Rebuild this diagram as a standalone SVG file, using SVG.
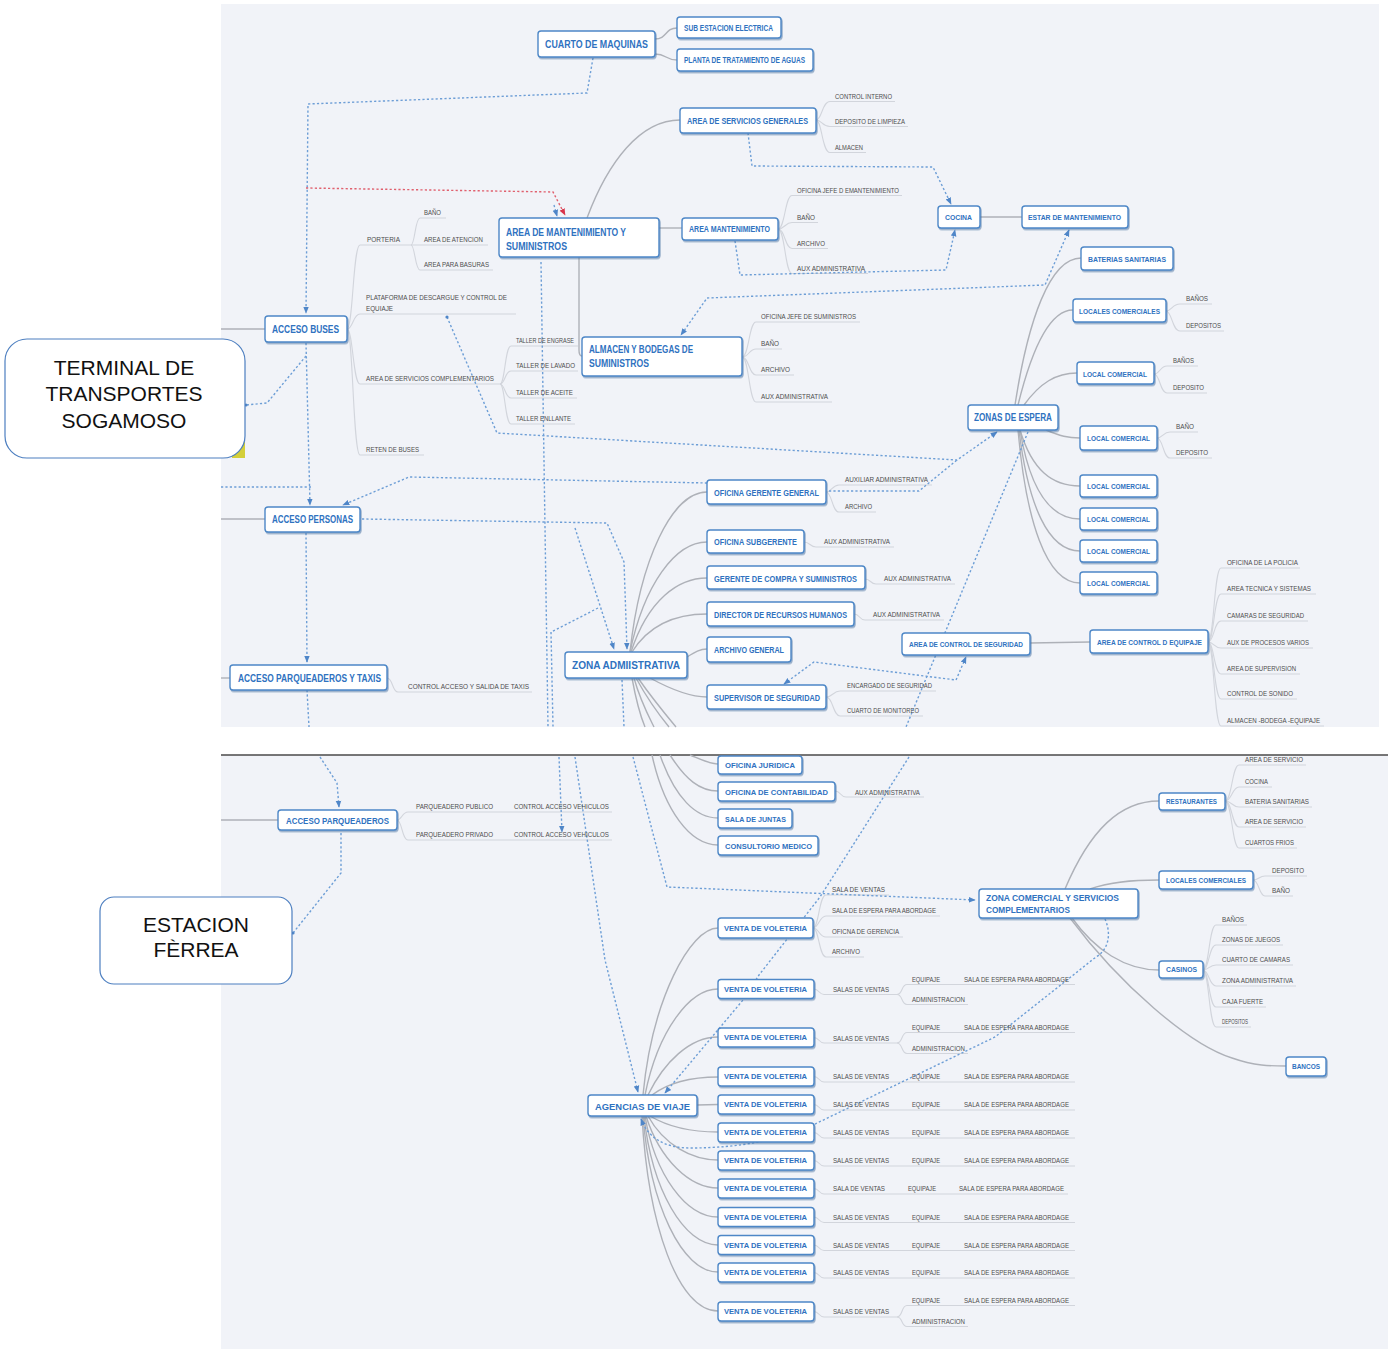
<svg xmlns="http://www.w3.org/2000/svg" width="1388" height="1349" viewBox="0 0 1388 1349">
<defs>
<style>
.p{fill:#f1f3f8}
.b{fill:#fff;stroke:#4d87c7;stroke-width:1.4;filter:url(#sh)}
.t{font-family:"Liberation Sans",Arial,sans-serif;font-weight:bold;fill:#2f72bf}
.l{font-family:"Liberation Sans",Arial,sans-serif;fill:#4d4d4d;font-size:7.2px}
.m{font-family:"Liberation Sans",Arial,sans-serif;fill:#111;font-size:21px;text-anchor:middle}
.br{fill:none;stroke:#aeb1b8;stroke-width:1.4}
.lb{fill:none;stroke:#d2d5dc;stroke-width:1.1}
.d{fill:none;stroke:#6d9ed6;stroke-width:1.4;stroke-dasharray:2.2 2.2}
.dr{fill:none;stroke:#e0606e;stroke-width:1.4;stroke-dasharray:2.2 2.2}
</style>
<filter id="sh" x="-10%" y="-20%" width="130%" height="160%">
<feDropShadow dx="1" dy="1.5" stdDeviation="0.6" flood-color="#4a6fa0" flood-opacity="0.55"/>
</filter>
<marker id="ar" viewBox="0 0 10 10" refX="9" refY="5" markerUnits="userSpaceOnUse" markerWidth="7" markerHeight="7" orient="auto-start-reverse">
<path d="M0,1 L10,5 L0,9 z" fill="#4f86c8"/>
</marker>
<marker id="arr" viewBox="0 0 10 10" refX="9" refY="5" markerUnits="userSpaceOnUse" markerWidth="7" markerHeight="7" orient="auto">
<path d="M0,1 L10,5 L0,9 z" fill="#d8344a"/>
</marker>
</defs>

<g id="panels">
<rect class="p" x="221" y="4" width="1158" height="723"/>
<rect class="p" x="221" y="755" width="1167" height="594"/>
<line x1="221" y1="755" x2="1388" y2="755" stroke="#4a4a4a" stroke-width="1.5"/>
</g>

<g id="connectors">
<path class="br" d="M655,39 C667,39 665,28 677,28"/>
<path class="br" d="M655,54 C667,54 665,60 677,60"/>
<path class="br" d="M587,218 C608,162 640,120 680,120"/>
<path class="br" d="M659,228 L682,228"/>
<path class="br" d="M579,257 L579,350 Q579,356 582,356"/>
<path class="br" d="M980,217 L1022,217"/>
<path class="br" d="M1015,405 C1028,320 1050,258 1081,258"/>
<path class="br" d="M1018,405 C1034,340 1052,310 1073,310"/>
<path class="br" d="M1024,405 C1040,383 1056,373 1077,373"/>
<path class="br" d="M1046,430 C1060,436 1068,438 1080,438"/>
<path class="br" d="M1020,430 C1032,470 1052,486 1080,486"/>
<path class="br" d="M1020,430 C1030,490 1050,519 1080,519"/>
<path class="br" d="M1019,430 C1028,505 1048,551 1080,551"/>
<path class="br" d="M1018,430 C1026,520 1046,583 1080,583"/>
<path class="br" d="M630,652 C640,560 672,492 707,492"/>
<path class="br" d="M630,652 C644,585 675,542 707,542"/>
<path class="br" d="M631,652 C648,600 678,578 707,578"/>
<path class="br" d="M632,652 C652,620 682,614 707,614"/>
<path class="br" d="M687,657 C695,652 700,649 707,649"/>
<path class="br" d="M650,678 C672,690 690,697 707,697"/>
<path class="br" d="M632,678 C636,700 640,715 645,727"/>
<path class="br" d="M634,678 C640,700 648,715 654,727"/>
<path class="br" d="M636,678 C648,700 660,716 669,727"/>
<path class="br" d="M638,678 C652,698 666,715 676,727"/>
<path class="br" d="M1030,643 L1090,642"/>
<path class="br" d="M221,329 H265"/>
<path class="br" d="M221,519 H265"/>
<path class="br" d="M221,678 H230"/>
<path class="br" d="M221,820 H278"/>
<path class="br" d="M690,755 C702,760 710,764 718,764"/>
<path class="br" d="M670,755 C686,780 700,791 718,791"/>
<path class="br" d="M660,755 C675,798 696,818 718,818"/>
<path class="br" d="M652,755 C664,810 690,845 718,845"/>
<path class="br" d="M1065,889 C1090,830 1120,801 1159,801"/>
<path class="br" d="M1090,889 C1110,882 1130,880 1159,880"/>
<path class="br" d="M1072,918 C1095,950 1125,970 1159,970"/>
<path class="br" d="M1070,918 C1120,985 1190,1045 1232,1058 C1255,1066 1270,1066 1286,1066"/>
<path class="br" d="M643,1095 C652,1000 690,928 718,928"/>
<path class="br" d="M645,1095 C658,1030 690,989 718,989"/>
<path class="br" d="M648,1095 C664,1062 690,1037 718,1037"/>
<path class="br" d="M652,1095 C672,1080 696,1077 718,1077"/>
<path class="br" d="M697,1105 L718,1104.5"/>
<path class="br" d="M650,1116 C670,1128 696,1132 718,1132"/>
<path class="br" d="M648,1116 C664,1145 692,1160 718,1160"/>
<path class="br" d="M646,1116 C660,1160 690,1188 718,1188"/>
<path class="br" d="M645,1116 C655,1175 686,1217 718,1217"/>
<path class="br" d="M644,1116 C652,1190 684,1245 718,1245"/>
<path class="br" d="M643,1116 C650,1205 682,1272 718,1272"/>
<path class="br" d="M642,1116 C648,1225 678,1311 718,1311"/>

<path class="lb" d="M816,120 C822,120 822,101.5 830,101.5 H895"/>
<path class="lb" d="M816,120 C822,120 822,126.5 830,126.5 H908"/>
<path class="lb" d="M816,120 C822,120 822,152.5 830,152.5 H866"/>
<path class="lb" d="M778,229 C785,229 785,195.5 792,195.5 H902"/>
<path class="lb" d="M778,229 C785,229 785,222.5 792,222.5 H818"/>
<path class="lb" d="M778,229 C785,229 785,248.5 792,248.5 H828"/>
<path class="lb" d="M778,229 C785,229 785,273.5 792,273.5 H868"/>
<path class="lb" d="M347,329 C353,329 353,245 360,245 H411"/>
<path class="lb" d="M347,329 C353,329 353,314 360,314 H516"/>
<path class="lb" d="M347,329 C353,329 353,384 360,384 H500"/>
<path class="lb" d="M347,329 C353,329 353,455 360,455 H424"/>
<path class="lb" d="M411,245 C415,245 415,218 420,218 H446"/>
<path class="lb" d="M411,245 H488"/>
<path class="lb" d="M411,245 C415,245 415,270 420,270 H493"/>
<path class="lb" d="M500,384 C505,384 505,346 511,346 H578"/>
<path class="lb" d="M500,384 C505,384 505,371 511,371 H578"/>
<path class="lb" d="M500,384 C505,384 505,398 511,398 H577"/>
<path class="lb" d="M500,384 C505,384 505,424 511,424 H575"/>
<path class="lb" d="M742,357 C749,357 749,322 756,322 H860"/>
<path class="lb" d="M742,357 C749,357 749,349 756,349 H782"/>
<path class="lb" d="M742,357 C749,357 749,375 756,375 H794"/>
<path class="lb" d="M742,357 C749,357 749,402 756,402 H832"/>
<path class="lb" d="M1166,311 C1172,311 1172,304 1180,304 H1212"/>
<path class="lb" d="M1166,311 C1172,311 1172,331 1180,331 H1224"/>
<path class="lb" d="M1154,374 C1160,374 1160,366 1167,366 H1198"/>
<path class="lb" d="M1154,374 C1160,374 1160,393 1167,393 H1207"/>
<path class="lb" d="M1157,438 C1163,438 1163,432 1170,432 H1198"/>
<path class="lb" d="M1157,438 C1163,438 1163,458 1170,458 H1212"/>
<path class="lb" d="M826,492 C832,492 832,485 839,485 H932"/>
<path class="lb" d="M826,492 C832,492 832,512 839,512 H876"/>
<path class="lb" d="M804,542 C810,542 810,547 816,547 H894"/>
<path class="lb" d="M865,579 C871,579 870,584 876,584 H955"/>
<path class="lb" d="M854,614 C860,614 859,620 865,620 H944"/>
<path class="lb" d="M826,697 C833,697 833,691 840,691 H936"/>
<path class="lb" d="M826,697 C833,697 833,716 840,716 H923"/>
<path class="lb" d="M1208,642 C1214,642 1214,568 1221,568 H1300"/>
<path class="lb" d="M1208,642 C1214,642 1214,594 1221,594 H1316"/>
<path class="lb" d="M1208,642 C1214,642 1214,621 1221,621 H1308"/>
<path class="lb" d="M1208,642 C1214,642 1214,648 1221,648 H1313"/>
<path class="lb" d="M1208,642 C1214,642 1214,674 1221,674 H1300"/>
<path class="lb" d="M1208,642 C1214,642 1214,699 1221,699 H1297"/>
<path class="lb" d="M1208,642 C1214,642 1214,726 1221,726 H1324"/>
<path class="lb" d="M387,678 C393,678 392,692 398,692 H532"/>
<path class="lb" d="M835,791 C841,791 840,797 846,797 H924"/>
<path class="lb" d="M397,820 C402,820 402,812 408,812 H612"/>
<path class="lb" d="M397,820 C402,820 402,840 408,840 H612"/>
<path class="lb" d="M813,928 C819,928 819,895 826,895 H889"/>
<path class="lb" d="M813,928 C819,928 819,916 826,916 H940"/>
<path class="lb" d="M813,928 C819,928 819,937 826,937 H903"/>
<path class="lb" d="M813,928 C819,928 819,957 826,957 H864"/>
<path class="lb" d="M1225,801 C1232,801 1232,765 1239,765 H1306"/>
<path class="lb" d="M1225,801 C1232,801 1232,787 1239,787 H1272"/>
<path class="lb" d="M1225,801 C1232,801 1232,807 1239,807 H1312"/>
<path class="lb" d="M1225,801 C1232,801 1232,827 1239,827 H1306"/>
<path class="lb" d="M1225,801 C1232,801 1232,848 1239,848 H1297"/>
<path class="lb" d="M1253,880 C1259,880 1259,876 1265,876 H1307"/>
<path class="lb" d="M1253,880 C1259,880 1259,896 1265,896 H1293"/>
<path class="lb" d="M1203,970 C1209,970 1209,925 1216,925 H1247"/>
<path class="lb" d="M1203,970 C1209,970 1209,945 1216,945 H1283"/>
<path class="lb" d="M1203,970 C1209,970 1209,965 1216,965 H1293"/>
<path class="lb" d="M1203,970 C1209,970 1209,986 1216,986 H1296"/>
<path class="lb" d="M1203,970 C1209,970 1209,1007 1216,1007 H1266"/>
<path class="lb" d="M1203,970 C1209,970 1209,1027 1216,1027 H1251"/>
<path class="lb" d="M814,989 C819,989 819,994.5 824,994.5 H897"/>
<path class="lb" d="M897,994.5 C903,994.5 901,984.5 907,984.5 H1075"/>
<path class="lb" d="M897,994.5 C903,994.5 901,1004.5 907,1004.5 H968"/>
<path class="lb" d="M814,1037.5 C819,1037.5 819,1043 824,1043 H897"/>
<path class="lb" d="M897,1043 C903,1043 901,1032.5 907,1032.5 H1075"/>
<path class="lb" d="M897,1043 C903,1043 901,1053.5 907,1053.5 H968"/>
<path class="lb" d="M814,1076.5 C819,1076.5 819,1082 824,1082 H1075"/>
<path class="lb" d="M814,1104.5 C819,1104.5 819,1110 824,1110 H1075"/>
<path class="lb" d="M814,1132.5 C819,1132.5 819,1138 824,1138 H1075"/>
<path class="lb" d="M814,1160.5 C819,1160.5 819,1166 824,1166 H1075"/>
<path class="lb" d="M814,1188.5 C819,1188.5 819,1194 824,1194 H1068"/>
<path class="lb" d="M814,1217 C819,1217 819,1222.5 824,1222.5 H1075"/>
<path class="lb" d="M814,1245 C819,1245 819,1250.5 824,1250.5 H1075"/>
<path class="lb" d="M814,1272.5 C819,1272.5 819,1278 824,1278 H1075"/>
<path class="lb" d="M814,1311.5 C819,1311.5 819,1317 824,1317 H897"/>
<path class="lb" d="M897,1317 C903,1317 901,1305.5 907,1305.5 H1075"/>
<path class="lb" d="M897,1317 C903,1317 901,1326.5 907,1326.5 H968"/>

<path class="d" d="M593,58 L587,93 L308,104 L306,313" marker-end="url(#ar)"/>
<path class="dr" d="M306,188 L553,192 L565,215" marker-end="url(#arr)"/>
<path class="d" d="M554,205 L557,216" marker-end="url(#ar)"/>
<path class="d" d="M748,133 L752,166 L933,167 L951,204" marker-end="url(#ar)"/>
<path class="d" d="M735,241 L740,275 L946,270 L955,230" marker-end="url(#ar)"/>
<path class="d" d="M1069,230 L1045,285 L707,298 L681,335" marker-start="url(#ar)" marker-end="url(#ar)"/>
<path class="d" d="M306,343 L310,505" marker-end="url(#ar)"/>
<path class="d" d="M306,356 L267,403 L246,405"/>
<circle cx="246" cy="405" r="1.6" fill="#4f86c8"/>
<path class="d" d="M221,487 L311,487"/>
<path class="d" d="M707,483 L409,477 L343,505" marker-end="url(#ar)"/>
<path class="d" d="M362,519 L607,523 L624,562 L627,649" marker-end="url(#ar)"/>
<path class="d" d="M575,528 L614,649" marker-end="url(#ar)"/>
<path class="d" d="M447,317 L497,433 L957,460 L997,432" marker-end="url(#ar)"/>
<circle cx="447" cy="317" r="1.6" fill="#4f86c8"/>
<path class="d" d="M829,491 L919,491 L957,460"/>
<path class="d" d="M1028,432 L906,727"/>
<path class="d" d="M909,757 L820,897 L759,975 L743,1000 L665,1093" marker-end="url(#ar)"/>
<path class="d" d="M784,684 L814,662 L956,680 L966,657" marker-start="url(#ar)" marker-end="url(#ar)"/>
<path class="d" d="M541,262 L548,727"/>
<path class="d" d="M559,757 L562,832" marker-end="url(#ar)"/>
<path class="d" d="M598,608 L551,632 L553,727"/>
<path class="d" d="M575,757 L605,960 L638,1092" marker-end="url(#ar)"/>
<path class="d" d="M622,680 L624,727"/>
<path class="d" d="M633,757 L667,887 L975,900" marker-end="url(#ar)"/>
<path class="d" d="M1105,919 C1112,935 1108,950 1096,957 L995,1037 L813,1125 C780,1140 740,1148 690,1148 C665,1148 648,1138 641,1119" marker-end="url(#ar)"/>
<path class="d" d="M320,757 L337,783 L339,807" marker-end="url(#ar)"/>
<path class="d" d="M341,833 L341,873 L293,933"/>
<circle cx="293" cy="933" r="1.6" fill="#4f86c8"/>
<path class="d" d="M306,533 L307,662" marker-end="url(#ar)"/>
<path class="d" d="M307,690 L309,727"/>
</g>

<g id="n-terminal">
<rect x="232" y="442" width="13" height="16" fill="#d4cf3a"/>
<rect x="5" y="339" width="240" height="119" rx="22" fill="#fff" stroke="#4d7fc0" stroke-width="1.2"/>
<text class="m" x="124" y="375">TERMINAL DE</text>
<text class="m" x="124" y="401">TRANSPORTES</text>
<text class="m" x="124" y="428">SOGAMOSO</text>
</g>
<g id="n-estacion">
<rect x="100" y="897" width="192" height="87" rx="14" fill="#fff" stroke="#4d7fc0" stroke-width="1.2"/>
<text class="m" x="196" y="932">ESTACION</text>
<text class="m" x="196" y="957">FÈRREA</text>
</g>

<g id="n-cuarto"><rect class="b" x="538" y="31" width="117" height="26" rx="3"/><text class="t" x="545" y="48" font-size="11.5" textLength="103" lengthAdjust="spacingAndGlyphs">CUARTO DE MAQUINAS</text></g>
<g id="n-subest"><rect class="b" x="677" y="17" width="104" height="21" rx="3"/><text class="t" x="684" y="30.5" font-size="8.5" textLength="89" lengthAdjust="spacingAndGlyphs">SUB ESTACION ELECTRICA</text></g>
<g id="n-planta"><rect class="b" x="677" y="49" width="136" height="22" rx="3"/><text class="t" x="684" y="63" font-size="8.5" textLength="121" lengthAdjust="spacingAndGlyphs">PLANTA DE TRATAMIENTO DE AGUAS</text></g>
<g id="n-asg"><rect class="b" x="680" y="108" width="136" height="25" rx="3"/><text class="t" x="687" y="124" font-size="8.5" textLength="121" lengthAdjust="spacingAndGlyphs">AREA DE SERVICIOS GENERALES</text></g>
<g id="n-amys"><rect class="b" x="499" y="218" width="160" height="39" rx="3"/><text class="t" x="506" y="236" font-size="10.5" textLength="120" lengthAdjust="spacingAndGlyphs">AREA DE MANTENIMIENTO Y</text><text class="t" x="506" y="250" font-size="10.5" textLength="61" lengthAdjust="spacingAndGlyphs">SUMINISTROS</text></g>
<g id="n-amant"><rect class="b" x="682" y="218" width="96" height="22" rx="3"/><text class="t" x="689" y="232" font-size="8.5" textLength="81" lengthAdjust="spacingAndGlyphs">AREA MANTENIMIENTO</text></g>
<g id="n-cocina"><rect class="b" x="938" y="206" width="42" height="22" rx="3"/><text class="t" x="945" y="220" font-size="8" textLength="27" lengthAdjust="spacingAndGlyphs">COCINA</text></g>
<g id="n-estar"><rect class="b" x="1022" y="206" width="106" height="22" rx="3"/><text class="t" x="1028" y="220" font-size="8" textLength="93" lengthAdjust="spacingAndGlyphs">ESTAR DE MANTENIMIENTO</text></g>
<g id="n-bat"><rect class="b" x="1081" y="247" width="92" height="23" rx="3"/><text class="t" x="1088" y="261.5" font-size="8" textLength="78" lengthAdjust="spacingAndGlyphs">BATERIAS SANITARIAS</text></g>
<g id="n-lcs1"><rect class="b" x="1073" y="299" width="93" height="23" rx="3"/><text class="t" x="1079" y="313.5" font-size="8" textLength="81" lengthAdjust="spacingAndGlyphs">LOCALES COMERCIALES</text></g>
<g id="n-lc1"><rect class="b" x="1077" y="362" width="77" height="22" rx="3"/><text class="t" x="1083" y="376.5" font-size="8" textLength="64" lengthAdjust="spacingAndGlyphs">LOCAL COMERCIAL</text></g>
<g id="n-ze"><rect class="b" x="968" y="405" width="90" height="25" rx="3"/><text class="t" x="974" y="421" font-size="10.5" textLength="78" lengthAdjust="spacingAndGlyphs">ZONAS DE ESPERA</text></g>
<g id="n-lc2"><rect class="b" x="1080" y="426" width="77" height="24" rx="3"/><text class="t" x="1087" y="441" font-size="8" textLength="63" lengthAdjust="spacingAndGlyphs">LOCAL COMERCIAL</text></g>
<g id="n-lc3"><rect class="b" x="1080" y="475" width="77" height="22" rx="3"/><text class="t" x="1087" y="489" font-size="8" textLength="63" lengthAdjust="spacingAndGlyphs">LOCAL COMERCIAL</text></g>
<g id="n-lc4"><rect class="b" x="1080" y="508" width="77" height="22" rx="3"/><text class="t" x="1087" y="522" font-size="8" textLength="63" lengthAdjust="spacingAndGlyphs">LOCAL COMERCIAL</text></g>
<g id="n-lc5"><rect class="b" x="1080" y="540" width="77" height="22" rx="3"/><text class="t" x="1087" y="554" font-size="8" textLength="63" lengthAdjust="spacingAndGlyphs">LOCAL COMERCIAL</text></g>
<g id="n-lc6"><rect class="b" x="1080" y="572" width="77" height="22" rx="3"/><text class="t" x="1087" y="586" font-size="8" textLength="63" lengthAdjust="spacingAndGlyphs">LOCAL COMERCIAL</text></g>
<g id="n-ab"><rect class="b" x="265" y="316" width="82" height="26" rx="3"/><text class="t" x="272" y="332.5" font-size="10.5" textLength="67" lengthAdjust="spacingAndGlyphs">ACCESO BUSES</text></g>
<g id="n-alm"><rect class="b" x="582" y="337" width="160" height="39" rx="3"/><text class="t" x="589" y="353" font-size="10.5" textLength="104" lengthAdjust="spacingAndGlyphs">ALMACEN Y BODEGAS DE</text><text class="t" x="589" y="367" font-size="10.5" textLength="60" lengthAdjust="spacingAndGlyphs">SUMINISTROS</text></g>
<g id="n-ap"><rect class="b" x="265" y="507" width="95" height="25" rx="3"/><text class="t" x="272" y="523" font-size="10.5" textLength="81" lengthAdjust="spacingAndGlyphs">ACCESO PERSONAS</text></g>
<g id="n-ogg"><rect class="b" x="707" y="480" width="119" height="24" rx="3"/><text class="t" x="714" y="495.5" font-size="9.5" textLength="105" lengthAdjust="spacingAndGlyphs">OFICINA GERENTE GENERAL</text></g>
<g id="n-subg"><rect class="b" x="707" y="530" width="97" height="23" rx="3"/><text class="t" x="714" y="545" font-size="9.5" textLength="83" lengthAdjust="spacingAndGlyphs">OFICINA SUBGERENTE</text></g>
<g id="n-compra"><rect class="b" x="707" y="566" width="158" height="23" rx="3"/><text class="t" x="714" y="581.5" font-size="8.4" textLength="143" lengthAdjust="spacingAndGlyphs">GERENTE DE COMPRA Y SUMINISTROS</text></g>
<g id="n-dir"><rect class="b" x="707" y="602" width="147" height="24" rx="3"/><text class="t" x="714" y="618" font-size="8.3" textLength="133" lengthAdjust="spacingAndGlyphs">DIRECTOR DE RECURSOS HUMANOS</text></g>
<g id="n-archg"><rect class="b" x="707" y="637" width="84" height="25" rx="3"/><text class="t" x="714" y="653" font-size="9.5" textLength="70" lengthAdjust="spacingAndGlyphs">ARCHIVO GENERAL</text></g>
<g id="n-za"><rect class="b" x="565" y="652" width="122" height="26" rx="3"/><text class="t" x="572" y="668.5" font-size="11" textLength="108" lengthAdjust="spacingAndGlyphs">ZONA ADMIISTRATIVA</text></g>
<g id="n-sup"><rect class="b" x="707" y="685" width="119" height="24" rx="3"/><text class="t" x="714" y="701" font-size="9.5" textLength="106" lengthAdjust="spacingAndGlyphs">SUPERVISOR DE SEGURIDAD</text></g>
<g id="n-acs"><rect class="b" x="902" y="633" width="128" height="22" rx="3"/><text class="t" x="909" y="646.5" font-size="7.5" textLength="114" lengthAdjust="spacingAndGlyphs">AREA DE CONTROL DE SEGURIDAD</text></g>
<g id="n-ace"><rect class="b" x="1090" y="630" width="118" height="23" rx="3"/><text class="t" x="1097" y="645" font-size="7.5" textLength="105" lengthAdjust="spacingAndGlyphs">AREA DE CONTROL D EQUIPAJE</text></g>
<g id="n-taxis"><rect class="b" x="230" y="665" width="157" height="25" rx="3"/><text class="t" x="238" y="682" font-size="10.5" textLength="143" lengthAdjust="spacingAndGlyphs">ACCESO PARQUEADEROS Y TAXIS</text></g>

<g id="l-ci"><text class="l" x="835" y="98.5" textLength="57" lengthAdjust="spacingAndGlyphs">CONTROL INTERNO</text></g>
<g id="l-dl"><text class="l" x="835" y="123.5" textLength="70" lengthAdjust="spacingAndGlyphs">DEPOSITO DE LIMPIEZA</text></g>
<g id="l-alm1"><text class="l" x="835" y="149.5" textLength="28" lengthAdjust="spacingAndGlyphs">ALMACEN</text></g>
<g id="l-ojm"><text class="l" x="797" y="192.5" textLength="102" lengthAdjust="spacingAndGlyphs">OFICINA JEFE D EMANTENIMIENTO</text></g>
<g id="l-bm"><text class="l" x="797" y="219.5" textLength="18" lengthAdjust="spacingAndGlyphs">BAÑO</text></g>
<g id="l-am"><text class="l" x="797" y="245.5" textLength="28" lengthAdjust="spacingAndGlyphs">ARCHIVO</text></g>
<g id="l-xm"><text class="l" x="797" y="270.5" textLength="68" lengthAdjust="spacingAndGlyphs">AUX ADMINISTRATIVA</text></g>
<g id="l-port"><text class="l" x="367" y="241.5" textLength="33" lengthAdjust="spacingAndGlyphs">PORTERIA</text></g>
<g id="l-bp"><text class="l" x="424" y="214.5" textLength="17" lengthAdjust="spacingAndGlyphs">BAÑO</text></g>
<g id="l-aa"><text class="l" x="424" y="241.5" textLength="59" lengthAdjust="spacingAndGlyphs">AREA DE ATENCION</text></g>
<g id="l-apb"><text class="l" x="424" y="266.5" textLength="65" lengthAdjust="spacingAndGlyphs">AREA PARA BASURAS</text></g>
<g id="l-plat"><text class="l" x="366" y="299.5" textLength="141" lengthAdjust="spacingAndGlyphs">PLATAFORMA DE DESCARGUE Y CONTROL DE</text><text class="l" x="366" y="310.5" textLength="27" lengthAdjust="spacingAndGlyphs">EQUIAJE</text></g>
<g id="l-asc"><text class="l" x="366" y="380.5" textLength="128" lengthAdjust="spacingAndGlyphs">AREA DE SERVICIOS COMPLEMENTARIOS</text></g>
<g id="l-ret"><text class="l" x="366" y="451.5" textLength="53" lengthAdjust="spacingAndGlyphs">RETEN DE BUSES</text></g>
<g id="l-t1"><text class="l" x="516" y="342.5" textLength="58" lengthAdjust="spacingAndGlyphs">TALLER DE ENGRASE</text></g>
<g id="l-t2"><text class="l" x="516" y="367.5" textLength="59" lengthAdjust="spacingAndGlyphs">TALLER DE LAVADO</text></g>
<g id="l-t3"><text class="l" x="516" y="394.5" textLength="57" lengthAdjust="spacingAndGlyphs">TALLER DE ACEITE</text></g>
<g id="l-t4"><text class="l" x="516" y="420.5" textLength="55" lengthAdjust="spacingAndGlyphs">TALLER ENLLANTE</text></g>
<g id="l-ojs"><text class="l" x="761" y="318.5" textLength="95" lengthAdjust="spacingAndGlyphs">OFICINA JEFE DE SUMINISTROS</text></g>
<g id="l-bs"><text class="l" x="761" y="345.5" textLength="18" lengthAdjust="spacingAndGlyphs">BAÑO</text></g>
<g id="l-as"><text class="l" x="761" y="371.5" textLength="29" lengthAdjust="spacingAndGlyphs">ARCHIVO</text></g>
<g id="l-xs"><text class="l" x="761" y="398.5" textLength="67" lengthAdjust="spacingAndGlyphs">AUX ADMINISTRATIVA</text></g>
<g id="l-b1"><text class="l" x="1186" y="300.5" textLength="22" lengthAdjust="spacingAndGlyphs">BAÑOS</text></g>
<g id="l-d1"><text class="l" x="1186" y="327.5" textLength="35" lengthAdjust="spacingAndGlyphs">DEPOSITOS</text></g>
<g id="l-b2"><text class="l" x="1173" y="362.5" textLength="21" lengthAdjust="spacingAndGlyphs">BAÑOS</text></g>
<g id="l-d2"><text class="l" x="1173" y="389.5" textLength="31" lengthAdjust="spacingAndGlyphs">DEPOSITO</text></g>
<g id="l-b3"><text class="l" x="1176" y="428.5" textLength="18" lengthAdjust="spacingAndGlyphs">BAÑO</text></g>
<g id="l-d3"><text class="l" x="1176" y="454.5" textLength="32" lengthAdjust="spacingAndGlyphs">DEPOSITO</text></g>
<g id="l-xg"><text class="l" x="845" y="481.5" textLength="83" lengthAdjust="spacingAndGlyphs">AUXILIAR ADMINISTRATIVA</text></g>
<g id="l-ag"><text class="l" x="845" y="508.5" textLength="27" lengthAdjust="spacingAndGlyphs">ARCHIVO</text></g>
<g id="l-xsg"><text class="l" x="824" y="543.5" textLength="66" lengthAdjust="spacingAndGlyphs">AUX ADMINISTRATIVA</text></g>
<g id="l-xc"><text class="l" x="884" y="580.5" textLength="67" lengthAdjust="spacingAndGlyphs">AUX ADMINISTRATIVA</text></g>
<g id="l-xd"><text class="l" x="873" y="616.5" textLength="67" lengthAdjust="spacingAndGlyphs">AUX ADMINISTRATIVA</text></g>
<g id="l-es"><text class="l" x="847" y="687.5" textLength="85" lengthAdjust="spacingAndGlyphs">ENCARGADO DE SEGURIDAD</text></g>
<g id="l-cm"><text class="l" x="847" y="712.5" textLength="72" lengthAdjust="spacingAndGlyphs">CUARTO DE MONITOREO</text></g>
<g id="l-pol"><text class="l" x="1227" y="564.5" textLength="71" lengthAdjust="spacingAndGlyphs">OFICINA DE LA POLICIA</text></g>
<g id="l-ats"><text class="l" x="1227" y="591" textLength="84" lengthAdjust="spacingAndGlyphs">AREA TECNICA Y SISTEMAS</text></g>
<g id="l-cds"><text class="l" x="1227" y="617.5" textLength="77" lengthAdjust="spacingAndGlyphs">CAMARAS DE SEGURIDAD</text></g>
<g id="l-apv"><text class="l" x="1227" y="644.5" textLength="82" lengthAdjust="spacingAndGlyphs">AUX DE PROCESOS VARIOS</text></g>
<g id="l-ads"><text class="l" x="1227" y="671" textLength="69" lengthAdjust="spacingAndGlyphs">AREA DE SUPERVISION</text></g>
<g id="l-cso"><text class="l" x="1227" y="696" textLength="66" lengthAdjust="spacingAndGlyphs">CONTROL DE SONIDO</text></g>
<g id="l-abe"><text class="l" x="1227" y="723" textLength="93" lengthAdjust="spacingAndGlyphs">ALMACEN -BODEGA -EQUIPAJE</text></g>
<g id="l-tx"><text class="l" x="408" y="688.5" textLength="121" lengthAdjust="spacingAndGlyphs">CONTROL ACCESO Y SALIDA DE TAXIS</text></g>

<g id="n-jur"><rect class="b" x="718" y="756" width="84" height="18" rx="3"/><text class="t" x="725" y="767.5" font-size="7.5" textLength="70" lengthAdjust="spacingAndGlyphs">OFICINA JURIDICA</text></g>
<g id="n-cont"><rect class="b" x="718" y="782" width="117" height="19" rx="3"/><text class="t" x="725" y="794.5" font-size="7.5" textLength="103" lengthAdjust="spacingAndGlyphs">OFICINA DE CONTABILIDAD</text></g>
<g id="n-juntas"><rect class="b" x="718" y="809" width="74" height="19" rx="3"/><text class="t" x="725" y="821.5" font-size="7.5" textLength="61" lengthAdjust="spacingAndGlyphs">SALA DE JUNTAS</text></g>
<g id="n-cons"><rect class="b" x="718" y="836" width="100" height="19" rx="3"/><text class="t" x="725" y="848.5" font-size="7.5" textLength="87" lengthAdjust="spacingAndGlyphs">CONSULTORIO MEDICO</text></g>
<g id="n-apq"><rect class="b" x="278" y="810" width="119" height="20" rx="3"/><text class="t" x="286" y="823.5" font-size="8.5" textLength="103" lengthAdjust="spacingAndGlyphs">ACCESO PARQUEADEROS</text></g>
<g id="n-v0"><rect class="b" x="718" y="918" width="95" height="20" rx="3"/><text class="t" x="724" y="931" font-size="7.5" textLength="83" lengthAdjust="spacingAndGlyphs">VENTA DE VOLETERIA</text></g>
<g id="n-zc"><rect class="b" x="979" y="889" width="159" height="29" rx="3"/><text class="t" x="986" y="900.5" font-size="9" textLength="133" lengthAdjust="spacingAndGlyphs">ZONA COMERCIAL Y SERVICIOS</text><text class="t" x="986" y="912.5" font-size="9" textLength="84" lengthAdjust="spacingAndGlyphs">COMPLEMENTARIOS</text></g>
<g id="n-rest"><rect class="b" x="1159" y="793" width="66" height="17" rx="3"/><text class="t" x="1166" y="804" font-size="7" textLength="51" lengthAdjust="spacingAndGlyphs">RESTAURANTES</text></g>
<g id="n-lcs2"><rect class="b" x="1159" y="871" width="94" height="18" rx="3"/><text class="t" x="1166" y="882.5" font-size="7" textLength="80" lengthAdjust="spacingAndGlyphs">LOCALES COMERCIALES</text></g>
<g id="n-cas"><rect class="b" x="1159" y="961" width="44" height="17" rx="3"/><text class="t" x="1166" y="972" font-size="7" textLength="31" lengthAdjust="spacingAndGlyphs">CASINOS</text></g>
<g id="n-bancos"><rect class="b" x="1286" y="1057" width="40" height="19" rx="3"/><text class="t" x="1292" y="1069" font-size="7" textLength="28" lengthAdjust="spacingAndGlyphs">BANCOS</text></g>
<g id="n-agencias"><rect class="b" x="588" y="1095" width="109" height="21" rx="3"/><text class="t" x="595" y="1109.5" font-size="9.5" textLength="95" lengthAdjust="spacingAndGlyphs">AGENCIAS DE VIAJE</text></g>
<g id="n-v1"><rect class="b" x="718" y="979.5" width="96" height="19" rx="3"/><text class="t" x="724" y="991.7" font-size="7.5" textLength="83" lengthAdjust="spacingAndGlyphs">VENTA DE VOLETERIA</text></g>
<g id="n-v2"><rect class="b" x="718" y="1028" width="96" height="19" rx="3"/><text class="t" x="724" y="1040.2" font-size="7.5" textLength="83" lengthAdjust="spacingAndGlyphs">VENTA DE VOLETERIA</text></g>
<g id="n-v3"><rect class="b" x="718" y="1067" width="96" height="19" rx="3"/><text class="t" x="724" y="1079.2" font-size="7.5" textLength="83" lengthAdjust="spacingAndGlyphs">VENTA DE VOLETERIA</text></g>
<g id="n-v4"><rect class="b" x="718" y="1095" width="96" height="19" rx="3"/><text class="t" x="724" y="1107.2" font-size="7.5" textLength="83" lengthAdjust="spacingAndGlyphs">VENTA DE VOLETERIA</text></g>
<g id="n-v5"><rect class="b" x="718" y="1123" width="96" height="19" rx="3"/><text class="t" x="724" y="1135.2" font-size="7.5" textLength="83" lengthAdjust="spacingAndGlyphs">VENTA DE VOLETERIA</text></g>
<g id="n-v6"><rect class="b" x="718" y="1151" width="96" height="19" rx="3"/><text class="t" x="724" y="1163.2" font-size="7.5" textLength="83" lengthAdjust="spacingAndGlyphs">VENTA DE VOLETERIA</text></g>
<g id="n-v7"><rect class="b" x="718" y="1179" width="96" height="19" rx="3"/><text class="t" x="724" y="1191.2" font-size="7.5" textLength="83" lengthAdjust="spacingAndGlyphs">VENTA DE VOLETERIA</text></g>
<g id="n-v8"><rect class="b" x="718" y="1207.5" width="96" height="19" rx="3"/><text class="t" x="724" y="1219.7" font-size="7.5" textLength="83" lengthAdjust="spacingAndGlyphs">VENTA DE VOLETERIA</text></g>
<g id="n-v9"><rect class="b" x="718" y="1235.5" width="96" height="19" rx="3"/><text class="t" x="724" y="1247.7" font-size="7.5" textLength="83" lengthAdjust="spacingAndGlyphs">VENTA DE VOLETERIA</text></g>
<g id="n-v10"><rect class="b" x="718" y="1263" width="96" height="19" rx="3"/><text class="t" x="724" y="1275.2" font-size="7.5" textLength="83" lengthAdjust="spacingAndGlyphs">VENTA DE VOLETERIA</text></g>
<g id="n-v11"><rect class="b" x="718" y="1302" width="96" height="19" rx="3"/><text class="t" x="724" y="1314.2" font-size="7.5" textLength="83" lengthAdjust="spacingAndGlyphs">VENTA DE VOLETERIA</text></g>

<g id="l-xct"><text class="l" x="855" y="794.5" textLength="65" lengthAdjust="spacingAndGlyphs">AUX ADMINISTRATIVA</text></g>
<g id="l-ppu"><text class="l" x="416" y="808.5" textLength="77" lengthAdjust="spacingAndGlyphs">PARQUEADERO PUBLICO</text></g>
<g id="l-cav1"><text class="l" x="514" y="808.5" textLength="95" lengthAdjust="spacingAndGlyphs">CONTROL ACCESO VEHICULOS</text></g>
<g id="l-ppr"><text class="l" x="416" y="836.5" textLength="77" lengthAdjust="spacingAndGlyphs">PARQUEADERO PRIVADO</text></g>
<g id="l-cav2"><text class="l" x="514" y="836.5" textLength="95" lengthAdjust="spacingAndGlyphs">CONTROL ACCESO VEHICULOS</text></g>
<g id="l-sv0"><text class="l" x="832" y="891.5" textLength="53" lengthAdjust="spacingAndGlyphs">SALA DE VENTAS</text></g>
<g id="l-se0"><text class="l" x="832" y="912.5" textLength="104" lengthAdjust="spacingAndGlyphs">SALA DE ESPERA PARA ABORDAGE</text></g>
<g id="l-og0"><text class="l" x="832" y="933.5" textLength="67" lengthAdjust="spacingAndGlyphs">OFICNA DE GERENCIA</text></g>
<g id="l-ar0"><text class="l" x="832" y="953.5" textLength="28" lengthAdjust="spacingAndGlyphs">ARCHIVO</text></g>
<g id="l-rs1"><text class="l" x="1245" y="761.5" textLength="58" lengthAdjust="spacingAndGlyphs">AREA DE SERVICIO</text></g>
<g id="l-rs2"><text class="l" x="1245" y="783.5" textLength="23" lengthAdjust="spacingAndGlyphs">COCINA</text></g>
<g id="l-rs3"><text class="l" x="1245" y="803.5" textLength="64" lengthAdjust="spacingAndGlyphs">BATERIA SANITARIAS</text></g>
<g id="l-rs4"><text class="l" x="1245" y="823.5" textLength="58" lengthAdjust="spacingAndGlyphs">AREA DE SERVICIO</text></g>
<g id="l-rs5"><text class="l" x="1245" y="844.5" textLength="49" lengthAdjust="spacingAndGlyphs">CUARTOS FRIOS</text></g>
<g id="l-lc1"><text class="l" x="1272" y="872.5" textLength="32" lengthAdjust="spacingAndGlyphs">DEPOSITO</text></g>
<g id="l-lc2"><text class="l" x="1272" y="892.5" textLength="18" lengthAdjust="spacingAndGlyphs">BAÑO</text></g>
<g id="l-cs1"><text class="l" x="1222" y="921.5" textLength="22" lengthAdjust="spacingAndGlyphs">BAÑOS</text></g>
<g id="l-cs2"><text class="l" x="1222" y="941.5" textLength="58" lengthAdjust="spacingAndGlyphs">ZONAS DE JUEGOS</text></g>
<g id="l-cs3"><text class="l" x="1222" y="961.5" textLength="68" lengthAdjust="spacingAndGlyphs">CUARTO DE CAMARAS</text></g>
<g id="l-cs4"><text class="l" x="1222" y="982.5" textLength="71" lengthAdjust="spacingAndGlyphs">ZONA ADMINISTRATIVA</text></g>
<g id="l-cs5"><text class="l" x="1222" y="1003.5" textLength="41" lengthAdjust="spacingAndGlyphs">CAJA FUERTE</text></g>
<g id="l-cs6"><text class="l" x="1222" y="1023.5" textLength="26" lengthAdjust="spacingAndGlyphs">DEPOSITOS</text></g>

<g id="l-r1"><text class="l" x="833" y="991.5" textLength="56" lengthAdjust="spacingAndGlyphs">SALAS DE VENTAS</text><text class="l" x="912" y="981.5" textLength="28" lengthAdjust="spacingAndGlyphs">EQUIPAJE</text><text class="l" x="964" y="981.5" textLength="105" lengthAdjust="spacingAndGlyphs">SALA DE ESPERA PARA ABORDAGE</text><text class="l" x="912" y="1001.5" textLength="53" lengthAdjust="spacingAndGlyphs">ADMINISTRACION</text></g>
<g id="l-r2"><text class="l" x="833" y="1040.5" textLength="56" lengthAdjust="spacingAndGlyphs">SALAS DE VENTAS</text><text class="l" x="912" y="1029.5" textLength="28" lengthAdjust="spacingAndGlyphs">EQUIPAJE</text><text class="l" x="964" y="1029.5" textLength="105" lengthAdjust="spacingAndGlyphs">SALA DE ESPERA PARA ABORDAGE</text><text class="l" x="912" y="1050.5" textLength="53" lengthAdjust="spacingAndGlyphs">ADMINISTRACION</text></g>
<g id="l-r3"><text class="l" x="833" y="1079" textLength="56" lengthAdjust="spacingAndGlyphs">SALAS DE VENTAS</text><text class="l" x="912" y="1079" textLength="28" lengthAdjust="spacingAndGlyphs">EQUIPAJE</text><text class="l" x="964" y="1079" textLength="105" lengthAdjust="spacingAndGlyphs">SALA DE ESPERA PARA ABORDAGE</text></g>
<g id="l-r4"><text class="l" x="833" y="1107" textLength="56" lengthAdjust="spacingAndGlyphs">SALAS DE VENTAS</text><text class="l" x="912" y="1107" textLength="28" lengthAdjust="spacingAndGlyphs">EQUIPAJE</text><text class="l" x="964" y="1107" textLength="105" lengthAdjust="spacingAndGlyphs">SALA DE ESPERA PARA ABORDAGE</text></g>
<g id="l-r5"><text class="l" x="833" y="1135" textLength="56" lengthAdjust="spacingAndGlyphs">SALAS DE VENTAS</text><text class="l" x="912" y="1135" textLength="28" lengthAdjust="spacingAndGlyphs">EQUIPAJE</text><text class="l" x="964" y="1135" textLength="105" lengthAdjust="spacingAndGlyphs">SALA DE ESPERA PARA ABORDAGE</text></g>
<g id="l-r6"><text class="l" x="833" y="1163" textLength="56" lengthAdjust="spacingAndGlyphs">SALAS DE VENTAS</text><text class="l" x="912" y="1163" textLength="28" lengthAdjust="spacingAndGlyphs">EQUIPAJE</text><text class="l" x="964" y="1163" textLength="105" lengthAdjust="spacingAndGlyphs">SALA DE ESPERA PARA ABORDAGE</text></g>
<g id="l-r7"><text class="l" x="833" y="1191" textLength="52" lengthAdjust="spacingAndGlyphs">SALA DE VENTAS</text><text class="l" x="908" y="1191" textLength="28" lengthAdjust="spacingAndGlyphs">EQUIPAJE</text><text class="l" x="959" y="1191" textLength="105" lengthAdjust="spacingAndGlyphs">SALA DE ESPERA PARA ABORDAGE</text></g>
<g id="l-r8"><text class="l" x="833" y="1219.5" textLength="56" lengthAdjust="spacingAndGlyphs">SALAS DE VENTAS</text><text class="l" x="912" y="1219.5" textLength="28" lengthAdjust="spacingAndGlyphs">EQUIPAJE</text><text class="l" x="964" y="1219.5" textLength="105" lengthAdjust="spacingAndGlyphs">SALA DE ESPERA PARA ABORDAGE</text></g>
<g id="l-r9"><text class="l" x="833" y="1247.5" textLength="56" lengthAdjust="spacingAndGlyphs">SALAS DE VENTAS</text><text class="l" x="912" y="1247.5" textLength="28" lengthAdjust="spacingAndGlyphs">EQUIPAJE</text><text class="l" x="964" y="1247.5" textLength="105" lengthAdjust="spacingAndGlyphs">SALA DE ESPERA PARA ABORDAGE</text></g>
<g id="l-r10"><text class="l" x="833" y="1275" textLength="56" lengthAdjust="spacingAndGlyphs">SALAS DE VENTAS</text><text class="l" x="912" y="1275" textLength="28" lengthAdjust="spacingAndGlyphs">EQUIPAJE</text><text class="l" x="964" y="1275" textLength="105" lengthAdjust="spacingAndGlyphs">SALA DE ESPERA PARA ABORDAGE</text></g>
<g id="l-r11"><text class="l" x="833" y="1314" textLength="56" lengthAdjust="spacingAndGlyphs">SALAS DE VENTAS</text><text class="l" x="912" y="1302.5" textLength="28" lengthAdjust="spacingAndGlyphs">EQUIPAJE</text><text class="l" x="964" y="1302.5" textLength="105" lengthAdjust="spacingAndGlyphs">SALA DE ESPERA PARA ABORDAGE</text><text class="l" x="912" y="1323.5" textLength="53" lengthAdjust="spacingAndGlyphs">ADMINISTRACION</text></g>
</svg>
